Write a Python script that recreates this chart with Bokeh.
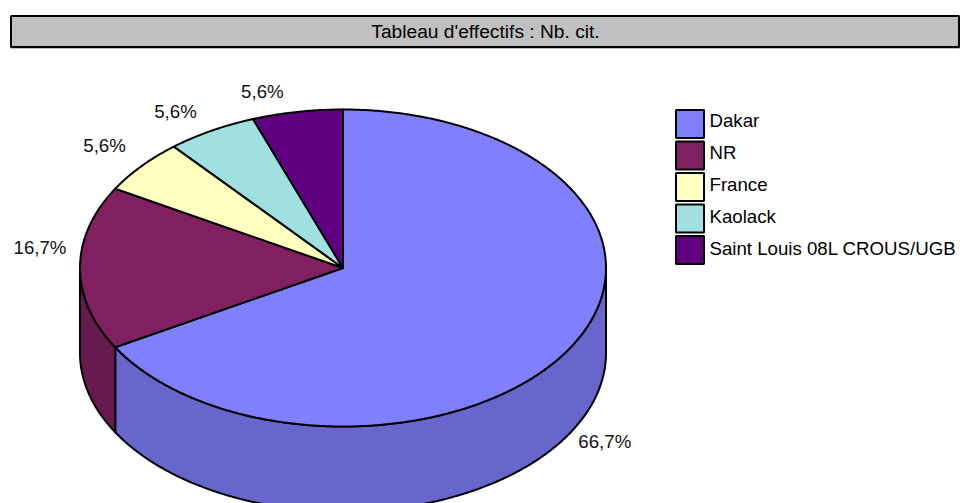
import math
from bokeh.embed import file_html
from bokeh.models import Range1d
from bokeh.plotting import figure
from bokeh.resources import INLINE
from bokeh.core.properties import value

# Data
title_text = "Tableau d'effectifs : Nb. cit."
categories = ["Dakar", "NR", "France", "Kaolack", "Saint Louis 08L CROUS/UGB"]
counts = [12, 3, 1, 1, 1]
pct_labels = ["66,7%", "16,7%", "5,6%", "5,6%", "5,6%"]
top_colors = ["#8080FF", "#802060", "#FFFFC0", "#A0E0E0", "#600080"]
side_colors = ["#6666CC", "#661A4D", "#CCCC99", "#80B3B3", "#4D0066"]

# Layout (page pixels, y downward)
W, H = 963, 503
CX, CY, RX, RY, DEPTH = 342.5, 267.5, 263, 158.5, 85
FONT = value("Liberation Sans")
FONT_SIZE = "18.67px"
label_offsets = [(34, 9.5), (-40, -20.5), (-37, -21), (-36, -19.5), (-35, -20)]

p = figure(width=W, height=H, output_backend="svg", toolbar_location=None,
           x_range=Range1d(0, W), y_range=Range1d(H, 0),
           min_border=0, outline_line_color=None, background_fill_color="white")
p.axis.visible = False
p.grid.visible = False


def point(deg, dy=0):
    r = math.radians(deg)
    return CX + RX * math.sin(r), CY - RY * math.cos(r) + dy


def arc(a, b, dy=0):
    n = max(2, int(abs(b - a)) * 2)
    return [point(a + (b - a) * i / n, dy) for i in range(n + 1)]


# Title band
p.line([10, 959, 959], [47.5, 47.5, 16], line_color="#808080", line_width=1)
p.quad(left=[10.5], right=[958.5], top=[15.5], bottom=[46.5], fill_color="#C0C0C0",
       line_color="black", line_width=2)
p.text([485], [31], text=[title_text], text_font=FONT, text_font_size="19.2px",
       text_align="center", text_baseline="middle", text_color="black")

# Slices
total = sum(counts)
angles = [0]
for c in counts:
    angles.append(angles[-1] + 360 * c / total)

for i in range(len(counts)):
    a = max(angles[i], 90)
    b = min(angles[i + 1], 270)
    if a < b:
        upper = arc(a, b)
        lower = arc(b, a, DEPTH)
        pts = upper + lower
        p.patch([q[0] for q in pts], [q[1] for q in pts], fill_color=side_colors[i],
                line_color="black", line_width=2, line_join="round")

for i in range(len(counts)):
    pts = [(CX, CY)] + arc(angles[i], angles[i + 1])
    p.patch([q[0] for q in pts], [q[1] for q in pts], fill_color=top_colors[i],
            line_color="black", line_width=2, line_join="round")

# Percentage labels
for i, lab in enumerate(pct_labels):
    mid = (angles[i] + angles[i + 1]) / 2
    x, y = point(mid, DEPTH if 90 < mid < 270 else 0)
    p.text([x + label_offsets[i][0]], [y + label_offsets[i][1]], text=[lab], text_font=FONT,
           text_font_size=FONT_SIZE, text_align="center", text_baseline="middle", text_color="#111111")

# Legend
for i, cat in enumerate(categories):
    y0 = 109 + 31.5 * i
    p.quad(left=[675.5], right=[703.5], top=[y0 + 0.5], bottom=[y0 + 28.5],
           fill_color=top_colors[i], line_color="black", line_width=2)
    p.text([709], [119.5 + 32 * i], text=[cat], text_font=FONT, text_font_size=FONT_SIZE,
           text_align="left", text_baseline="middle", text_color="black")

open("out.html", "w").write(file_html(p, INLINE))
